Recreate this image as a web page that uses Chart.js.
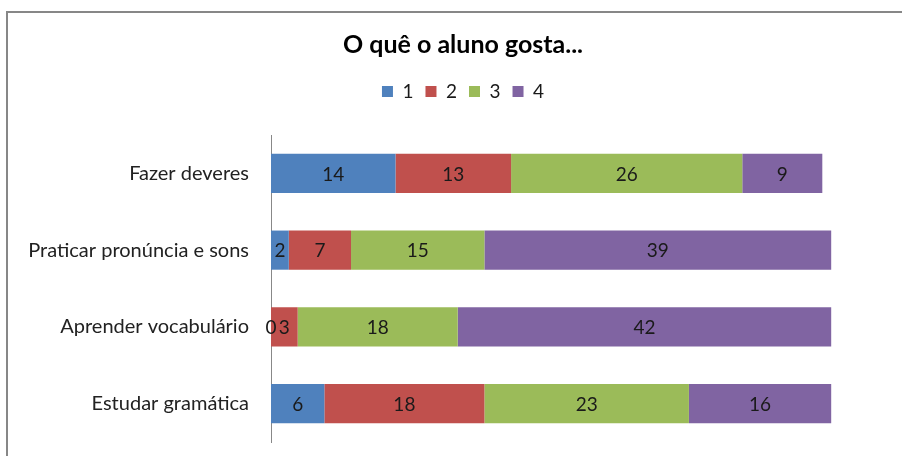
<!DOCTYPE html>
<html><head><meta charset="utf-8">
<script src="https://cdn.jsdelivr.net/npm/chart.js@4"></script>
<style>html,body{margin:0;padding:0;background:#fff;overflow:hidden;}#wrap{width:902px;height:456px;}</style>
</head><body><div id="wrap"><canvas id="c" width="902" height="456"></canvas></div>
<script>
const categories = ["Fazer deveres", "Praticar pronúncia e sons", "Aprender vocabulário", "Estudar gramática"];
const seriesNames = ["1", "2", "3", "4"];
const s1 = [14, 2, 0, 6];
const s2 = [13, 7, 3, 18];
const s3 = [26, 15, 18, 23];
const s4 = [9, 39, 42, 16];
const colors = ["#4F81BD", "#C0504D", "#9BBB59", "#8064A2"];
const FONT = "Lato, 'Open Sans', sans-serif";

const frame = {
  id: 'frame',
  beforeDraw(chart) {
    const ctx = chart.ctx;
    ctx.save();
    ctx.fillStyle = '#fff';
    ctx.fillRect(0, 0, chart.width, chart.height);
    ctx.strokeStyle = '#878787';
    ctx.lineWidth = 2;
    ctx.beginPath();
    ctx.moveTo(7, 460);
    ctx.lineTo(7, 12);
    ctx.lineTo(910, 12);
    ctx.stroke();
    ctx.restore();
  }
};
const labels = {
  id: 'labels',
  afterDatasetsDraw(chart) {
    const ctx = chart.ctx;
    ctx.save();
    ctx.font = "19px " + FONT;
    ctx.fillStyle = '#1a1a1a';
    ctx.textAlign = 'center';
    ctx.textBaseline = 'middle';
    chart.data.datasets.forEach((ds, i) => {
      const meta = chart.getDatasetMeta(i);
      meta.data.forEach((bar, j) => {
        const x = (bar.x + bar.base) / 2;
        ctx.fillText(String(ds.data[j]), x, bar.y + 1);
      });
    });
    ctx.restore();
  }
};

new Chart(document.getElementById('c'), {
  type: 'bar',
  data: {
    labels: categories,
    datasets: [s1, s2, s3, s4].map((d, i) => ({
      label: seriesNames[i], data: d, backgroundColor: colors[i],
      borderWidth: 0, categoryPercentage: 1, barPercentage: 0.51
    }))
  },
  options: {
    indexAxis: 'y',
    responsive: false,
    animation: false,
    devicePixelRatio: 1,
    layout: { padding: { left: 29, right: 5, top: 27, bottom: 14 } },
    plugins: {
      title: { display: true, text: 'O quê o aluno gosta...', color: '#000',
        font: { family: FONT, size: 25, weight: 'bold' }, padding: { top: 3, bottom: 10 } },
      legend: { display: true, position: 'top',
        labels: { boxWidth: 11, boxHeight: 11, color: '#1a1a1a', padding: 12,
          font: { family: FONT, size: 19 } } },
      tooltip: { enabled: false }
    },
    scales: {
      x: { stacked: true, min: 0, max: 70.4, position: 'top',
        ticks: { display: false }, grid: { display: false, drawTicks: false },
        border: { display: false },
        afterFit(scale) { scale.height = 24; } },
      y: { stacked: true,
        grid: { display: false, drawTicks: false },
        border: { display: true, color: '#888', width: 1 },
        ticks: { color: '#222', padding: 22, font: { family: FONT, size: 20 } },
        afterFit(scale) { scale.width = 242; scale.paddingTop = 0; scale.paddingBottom = 0; }
      }
    }
  },
  plugins: [frame, labels]
});
</script></body></html>
